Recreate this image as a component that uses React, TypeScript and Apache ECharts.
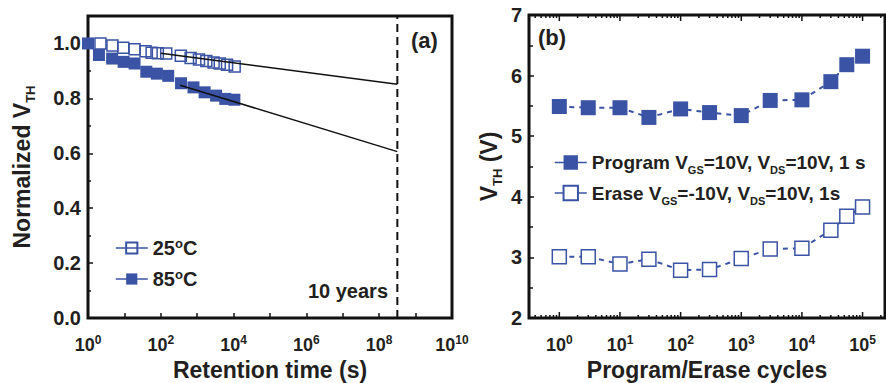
import React, { useEffect, useRef } from 'react';
import * as echarts from 'echarts';

const BLUE = '#3A53A4';
const INK = '#231F20';
const FONT = 'Liberation Sans, Arial, Helvetica, sans-serif';

// (a) retention
const time25 = [2.2, 4.7, 9.3, 19, 38, 56, 83, 141, 355, 660, 1120, 1780, 2820, 4170, 6610, 10700];
const vth25 = [1.0, 0.993, 0.984, 0.979, 0.972, 0.966, 0.964, 0.963, 0.955, 0.947, 0.942, 0.936, 0.931, 0.927, 0.922, 0.916];
const time85 = [1, 2.0, 4.6, 9.5, 19, 40, 78, 160, 360, 790, 1600, 3300, 5900, 10500];
const vth85 = [1.0, 0.958, 0.945, 0.933, 0.927, 0.897, 0.89, 0.882, 0.855, 0.84, 0.822, 0.81, 0.798, 0.795];
const tenYears = 3.15e8;
const fitTime25 = [100, tenYears];
const fitVth25 = [0.964, 0.851];
const fitTime85 = [340, tenYears];
const fitVth85 = [0.848, 0.606];
const retentionDecades = [0, 2, 4, 6, 8, 10];
const normTicks = [0, 0.2, 0.4, 0.6, 0.8, 1.0];

// (b) endurance
const cycles = [1, 3, 10, 30, 100, 300, 1000, 3000, 10000, 30000, 55000, 100000];
const programVth = [5.49, 5.47, 5.47, 5.31, 5.45, 5.39, 5.34, 5.59, 5.6, 5.9, 6.18, 6.32];
const eraseVth = [3.01, 3.01, 2.89, 2.97, 2.79, 2.8, 2.98, 3.14, 3.15, 3.45, 3.68, 3.83];
const cycleDecades = [0, 1, 2, 3, 4, 5];
const vthTicks = [2, 3, 4, 5, 6, 7];

const lg = Math.log10;
const pairs = (xs: number[], ys: number[]) => xs.map((x, i) => [lg(x), ys[i]]);

const xRich = {
  b: { fontSize: 18, fontWeight: 'bold', fontFamily: FONT, color: INK, lineHeight: 22 },
  p: { fontSize: 12, fontWeight: 'bold', fontFamily: FONT, color: INK, lineHeight: 12, verticalAlign: 'top' },
};
const nameRich = {
  m: { fontSize: 23, fontWeight: 'bold', fontFamily: FONT, color: INK, lineHeight: 30 },
  s: { fontSize: 13, fontWeight: 'bold', fontFamily: FONT, color: INK, lineHeight: 12, verticalAlign: 'bottom' },
};

function decadeLabel(v: number, decades: number[]) {
  const r = Math.round(v);
  if (Math.abs(v - r) > 1e-6 || !decades.includes(r)) return '';
  return `{b|10}{p|${r}}`;
}

// log-minor tick positions for panel (b) axis decoration
const cycleTickMarks: number[][] = [];
for (let n = -1; n <= 5; n++) {
  for (let k = 1; k <= 9; k++) {
    const v = n + lg(k);
    if (v >= -0.5 && v <= 5.37) cycleTickMarks.push([v, 2, k === 1 ? 1 : 0]);
  }
}

export default function App() {
  const ref = useRef<HTMLDivElement>(null);
  useEffect(() => {
    if (!ref.current) return;
    const chart = echarts.init(ref.current, undefined, { renderer: 'svg' });
    const axisLabelY = { fontSize: 20, fontWeight: 'bold', fontFamily: FONT, color: INK, margin: 7 };
    const tickStyle = { color: '#111', width: 1.5 };
    chart.setOption({
      animation: false,
      backgroundColor: '#fff',
      textStyle: { fontFamily: FONT },
      grid: [
        { left: 88, top: 16, width: 364, height: 302, show: true, borderColor: '#111', borderWidth: 3, containLabel: false, outerBoundsMode: 'none' },
        { left: 529, top: 15, width: 356, height: 303, show: true, borderColor: '#111', borderWidth: 3, containLabel: false, outerBoundsMode: 'none' },
      ],
      xAxis: [
        {
          gridIndex: 0, type: 'value', min: 0, max: 10, interval: 2,
          axisLine: { show: false, onZero: false }, splitLine: { show: false },
          axisTick: { show: true, inside: true, length: 5, lineStyle: tickStyle },
          minorTick: { show: true, splitNumber: 2, length: 5, lineStyle: tickStyle },
          axisLabel: { margin: 16, formatter: (v: number) => decadeLabel(v, retentionDecades), rich: xRich },
          name: 'Retention time (s)', nameLocation: 'middle', nameGap: 39,
          nameTextStyle: { fontSize: 23, fontWeight: 'bold', color: INK, fontFamily: FONT },
        },
        {
          gridIndex: 1, type: 'value', min: -0.5, max: 5.37, interval: 0.5,
          axisLine: { show: false, onZero: false }, splitLine: { show: false }, axisTick: { show: false },
          axisLabel: { margin: 16, formatter: (v: number) => decadeLabel(v, cycleDecades), rich: xRich, showMaxLabel: false },
          name: 'Program/Erase cycles', nameLocation: 'middle', nameGap: 39,
          nameTextStyle: { fontSize: 23, fontWeight: 'bold', color: INK, fontFamily: FONT },
        },
      ],
      yAxis: [
        {
          gridIndex: 0, type: 'value', min: 0, max: 1.1, interval: 0.2,
          axisLine: { show: false, onZero: false }, splitLine: { show: false },
          axisTick: { show: true, inside: true, length: 5, lineStyle: tickStyle },
          minorTick: { show: true, splitNumber: 2, length: 3, lineStyle: tickStyle },
          axisLabel: {
            ...axisLabelY, showMaxLabel: false,
            formatter: (v: number) => (normTicks.some((t) => Math.abs(t - v) < 1e-6) ? v.toFixed(1) : ''),
          },
          name: '{m|Normalized V}{s|TH}', nameLocation: 'middle', nameGap: 51, nameRotate: 90,
          nameTextStyle: { rich: nameRich },
        },
        {
          gridIndex: 1, type: 'value', min: 2, max: 7, interval: 1,
          axisLine: { show: false, onZero: false }, splitLine: { show: false },
          axisTick: { show: true, inside: true, length: 5, lineStyle: tickStyle },
          minorTick: { show: true, splitNumber: 2, length: 4, lineStyle: tickStyle },
          axisLabel: {
            ...axisLabelY,
            formatter: (v: number) => (vthTicks.includes(v) ? String(v) : ''),
          },
          name: '{m|V}{s|TH}{m| (V)}', nameLocation: 'middle', nameGap: 25, nameRotate: 90,
          nameTextStyle: { rich: nameRich },
        },
      ],
      legend: [
        {
          data: ['25°C', '85°C'], orient: 'vertical', left: 115, top: 237, padding: 0,
          itemWidth: 32, itemHeight: 14, itemGap: 10,
          lineStyle: { color: BLUE, width: 1.5, opacity: 1, type: 'solid' },
          formatter: (n: string) => `{n|${n.slice(0, 2)}}{o|o}{n|C}`,
          textStyle: {
            fontSize: 20, fontWeight: 'bold', fontFamily: FONT, color: INK,
            rich: {
              n: { fontSize: 20, fontWeight: 'bold', fontFamily: FONT, color: INK, lineHeight: 22 },
              o: { fontSize: 13, fontWeight: 'bold', fontFamily: FONT, color: INK, lineHeight: 13, verticalAlign: 'top' },
            },
          },
        },
        {
          data: ['Program', 'Erase'], orient: 'vertical', left: 554, top: 153, padding: 0,
          itemWidth: 32, itemHeight: 18, itemGap: 8,
          lineStyle: { type: 'solid', width: 1.5 },
          formatter: (n: string) =>
            n === 'Program'
              ? '{n|Program V}{s|GS}{n|=10V, V}{s|DS}{n|=10V, 1 s}'
              : '{n|Erase V}{s|GS}{n|=-10V, V}{s|DS}{n|=10V, 1s}',
          textStyle: {
            fontSize: 19, fontWeight: 'bold', fontFamily: FONT, color: INK,
            rich: {
              n: { fontSize: 19, fontWeight: 'bold', fontFamily: FONT, color: INK, lineHeight: 26 },
              s: { fontSize: 11, fontWeight: 'bold', fontFamily: FONT, color: INK, lineHeight: 8, verticalAlign: 'bottom' },
            },
          },
        },
      ],
      series: [
        {
          name: '85°C', type: 'line', xAxisIndex: 0, yAxisIndex: 0, data: pairs(time85, vth85),
          symbol: 'rect', symbolSize: 12, itemStyle: { color: BLUE },
          lineStyle: { width: 0, opacity: 0 },
        },
        {
          name: '25°C', type: 'line', xAxisIndex: 0, yAxisIndex: 0, data: pairs(time25, vth25),
          symbol: 'rect', symbolSize: 11, itemStyle: { color: 'rgba(255,255,255,0)', borderColor: BLUE, borderWidth: 1.5 },
          lineStyle: { width: 0, opacity: 0 },
        },
        {
          type: 'line', xAxisIndex: 0, yAxisIndex: 0, data: pairs(fitTime25, fitVth25), symbol: 'none', z: 5,
          lineStyle: { color: '#111', width: 1.5 },
        },
        {
          type: 'line', xAxisIndex: 0, yAxisIndex: 0, data: pairs(fitTime85, fitVth85), symbol: 'none', z: 5,
          lineStyle: { color: '#111', width: 1.5 },
        },
        {
          type: 'line', xAxisIndex: 0, yAxisIndex: 0, data: [[lg(tenYears), 0], [lg(tenYears), 1.1]], symbol: 'none', z: 5,
          lineStyle: { color: '#111', width: 2, type: [8, 5] },
        },
        {
          name: 'Program', type: 'line', xAxisIndex: 1, yAxisIndex: 1, data: pairs(cycles, programVth),
          symbol: 'rect', symbolSize: 15, itemStyle: { color: BLUE },
          lineStyle: { color: BLUE, width: 2, type: [5, 5] },
        },
        {
          name: 'Erase', type: 'line', xAxisIndex: 1, yAxisIndex: 1, data: pairs(cycles, eraseVth),
          symbol: 'rect', symbolSize: 14, itemStyle: { color: '#fff', borderColor: BLUE, borderWidth: 1.5 },
          lineStyle: { color: BLUE, width: 2, type: [5, 5] },
        },
        {
          type: 'custom', xAxisIndex: 1, yAxisIndex: 1, data: cycleTickMarks, clip: false, silent: true, z: 6,
          encode: { x: 0, y: 1 },
          renderItem: (_p: any, api: any) => {
            const x = api.value(0);
            const len = api.value(2) ? 6 : 3;
            const b = api.coord([x, 2]);
            const t = api.coord([x, 7]);
            const st = { stroke: '#111', lineWidth: 1.5 };
            return {
              type: 'group',
              children: [
                { type: 'line', shape: { x1: b[0], y1: b[1], x2: b[0], y2: b[1] - len }, style: st },
                { type: 'line', shape: { x1: t[0], y1: t[1], x2: t[0], y2: t[1] + len }, style: st },
              ],
            };
          },
        },
      ],
      graphic: [
        { type: 'text', left: 411, top: 29, style: { text: '(a)', fontSize: 22, fontWeight: 'bold', fontFamily: FONT, fill: INK } },
        { type: 'text', left: 538, top: 26, style: { text: '(b)', fontSize: 22, fontWeight: 'bold', fontFamily: FONT, fill: INK } },
        { type: 'text', right: 886 - 388, top: 281, style: { text: '10 years', fontSize: 20, fontWeight: 'bold', fontFamily: FONT, fill: INK } },
      ],
    });
    return () => chart.dispose();
  }, []);
  return <div ref={ref} style={{ position: 'fixed', left: 0, top: 0, width: 886, height: 383 }} />;
}
